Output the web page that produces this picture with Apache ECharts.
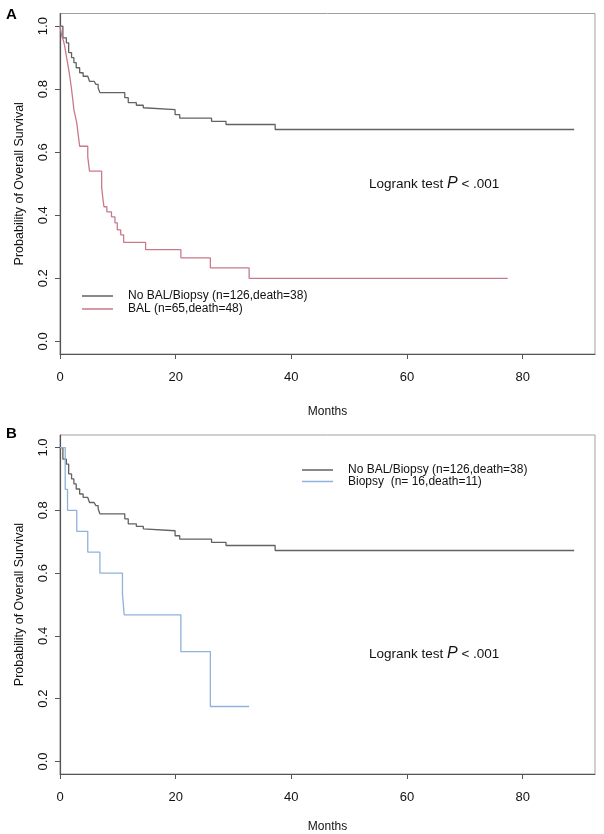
<!DOCTYPE html>
<html>
<head>
<meta charset="utf-8">
<script src="https://cdn.jsdelivr.net/npm/echarts@6/dist/echarts.min.js"></script>
<style>
html,body{margin:0;padding:0;background:#fff;}
#c{width:604px;height:834px;}
</style>
</head>
<body>
<div id="c"></div>
<script>
// ---- Data ----
const xTicks = [0, 20, 40, 60, 80];
const yTicks = [0, 0.2, 0.4, 0.6, 0.8, 1.0];

const noBalName = 'No BAL/Biopsy (n=126,death=38)';
const balName = 'BAL (n=65,death=48)';
const biopsyName = 'Biopsy  (n= 16,death=11)';

const noBalTime = [0, 0.5, 1.1, 1.5, 2.0, 2.4, 2.8, 3.4, 4.0, 4.8, 5.1, 5.9, 6.2, 6.6, 6.9, 11.2, 11.8, 13.2, 14.4, 14.7, 19.9, 20.7, 26.2, 28.7, 37.2, 88.9];
const noBalSurv = [1.0, 0.963, 0.947, 0.916, 0.900, 0.884, 0.868, 0.852, 0.841, 0.836, 0.825, 0.820, 0.815, 0.804, 0.789, 0.773, 0.757, 0.749, 0.741, 0.735, 0.719, 0.708, 0.698, 0.688, 0.672, 0.672];

const balTime = [0, 0.3, 0.6, 0.8, 1.1, 1.4, 1.7, 2.0, 2.2, 2.4, 2.7, 2.9, 3.1, 3.4, 4.8, 5.1, 7.2, 7.4, 7.6, 8.1, 8.9, 9.5, 9.9, 10.5, 11.0, 14.8, 20.9, 26.0, 32.7, 77.4];
const balSurv = [1.0, 0.969, 0.953, 0.937, 0.905, 0.873, 0.840, 0.799, 0.768, 0.735, 0.710, 0.693, 0.662, 0.619, 0.585, 0.540, 0.490, 0.455, 0.427, 0.411, 0.395, 0.376, 0.354, 0.338, 0.314, 0.291, 0.265, 0.233, 0.200, 0.200];

const biopsyTime = [0, 0.9, 1.3, 2.9, 4.8, 6.9, 10.8, 11.1, 20.9, 26.0, 32.7];
const biopsySurv = [1.0, 0.867, 0.800, 0.733, 0.667, 0.600, 0.533, 0.467, 0.350, 0.175, 0.175];

const pair = (t, s) => t.map((v, i) => [v, s[i]]);

const grayColor = '#626262';
const pinkColor = '#c9798a';
const blueColor = '#8fb1dc';
const font = 'Liberation Sans, Arial, sans-serif';

function xAxis(gridIndex, nameGap) {
  return {
    type: 'value', gridIndex, min: 0, max: 92.5,
    name: 'Months', nameLocation: 'middle', nameGap,
    nameTextStyle: { fontFamily: font, fontSize: 12, color: '#111' },
    axisLine: { show: true, onZero: false, lineStyle: { color: '#555', width: 1.2 } },
    axisTick: { show: true, length: 5, customValues: xTicks, lineStyle: { color: '#555' } },
    axisLabel: { customValues: xTicks, margin: 17, fontFamily: font, fontSize: 13, color: '#111' },
    splitLine: { show: false }
  };
}
function yAxis(gridIndex) {
  return {
    type: 'value', gridIndex, min: -0.04, max: 1.04,
    name: 'Probability of Overall Survival', nameLocation: 'middle', nameGap: 34,
    nameTextStyle: { fontFamily: font, fontSize: 12.5, color: '#111' },
    axisLine: { show: true, onZero: false, lineStyle: { color: '#555', width: 1.2 } },
    axisTick: { show: true, length: 5, customValues: yTicks, lineStyle: { color: '#555' } },
    axisLabel: { customValues: yTicks, rotate: 90, margin: 10, fontFamily: font, fontSize: 13, color: '#111',
      formatter: v => v.toFixed(1) },
    splitLine: { show: false }
  };
}
function stepSeries(name, data, color, idx) {
  return {
    name, type: 'line', step: 'end', xAxisIndex: idx, yAxisIndex: idx,
    data, color, showSymbol: false, symbol: 'none',
    lineStyle: { color, width: 1.3 }, animation: false, silent: true
  };
}
function legend(left, top, gap, names) {
  return {
    left, top, orient: 'vertical', itemGap: gap, itemWidth: 31, itemHeight: 1.5,
    icon: 'rect', data: names, selectedMode: false,
    textStyle: { fontFamily: font, fontSize: 12, color: '#111', padding: [0, 0, 0, 10] }
  };
}
function logrank(left, top) {
  return {
    type: 'text', left, top,
    style: {
      text: '{n|Logrank test }{p|P}{n| < .001}',
      rich: {
        n: { fontFamily: font, fontSize: 13.5, fill: '#111' },
        p: { fontFamily: font, fontSize: 16, fontStyle: 'italic', fill: '#111' }
      }
    }
  };
}

const chart = echarts.init(document.getElementById('c'), null, { renderer: 'canvas' });
chart.setOption({
  animation: false,
  backgroundColor: '#fff',
  grid: [
    { left: 60, top: 13.5, width: 535, height: 340.5, show: true, borderColor: '#a0a0a0', borderWidth: 1 },
    { left: 60, top: 435, width: 535, height: 341.5, show: true, borderColor: '#a0a0a0', borderWidth: 1 }
  ],
  xAxis: [xAxis(0, 52), xAxis(1, 47)],
  yAxis: [yAxis(0), yAxis(1)],
  legend: [
    legend(77, 285, 1, [noBalName, balName]),
    legend(297, 459, -0.5, [noBalName, biopsyName])
  ],
  series: [
    stepSeries(noBalName, pair(noBalTime, noBalSurv), grayColor, 0),
    stepSeries(balName, pair(balTime, balSurv), pinkColor, 0),
    stepSeries(noBalName, pair(noBalTime, noBalSurv), grayColor, 1),
    stepSeries(biopsyName, pair(biopsyTime, biopsySurv), blueColor, 1)
  ],
  graphic: [
    { type: 'text', left: 6, top: 7, style: { text: 'A', fontFamily: font, fontSize: 15, fontWeight: 'bold', fill: '#000' } },
    { type: 'text', left: 6, top: 426, style: { text: 'B', fontFamily: font, fontSize: 15, fontWeight: 'bold', fill: '#000' } },
    logrank(369, 176),
    logrank(369, 646)
  ]
});
</script>
</body>
</html>
